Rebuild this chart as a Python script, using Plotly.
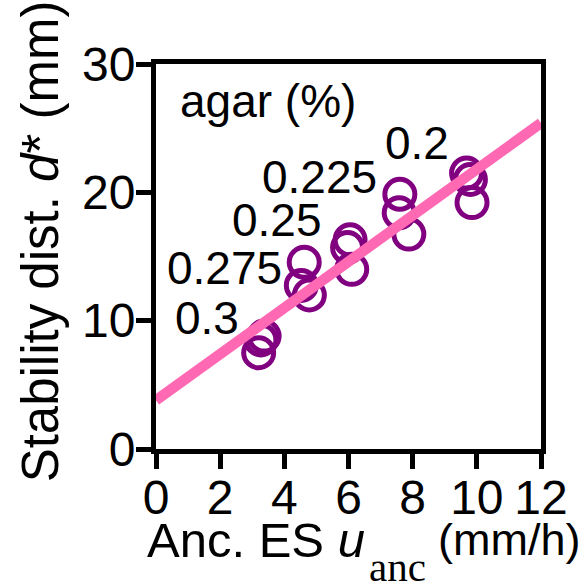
import plotly.graph_objects as go

# Anchorage-cell elongation speed (mm/h) and stability distance d* (mm), per agar concentration
agar_labels = ["0.3", "0.275", "0.25", "0.225", "0.2"]
u_anc = [
    [3.37, 3.27, 3.20],
    [4.62, 4.53, 4.78],
    [6.05, 5.97, 6.10],
    [7.60, 7.58, 7.88],
    [9.68, 9.80, 9.85],
]
d_star = [
    [8.8, 8.5, 7.5],
    [14.55, 12.75, 12.0],
    [16.3, 15.7, 14.0],
    [19.85, 18.4, 16.75],
    [21.5, 21.0, 19.2],
]

# Linear fit drawn across the full axis range
fit_x = [0, 12]
fit_y = [3.8, 25.4]

# Where each concentration label sits (data coordinates)
label_x = [1.6, 2.15, 3.77, 5.11, 8.14]
label_y = [10.2, 14.1, 17.85, 21.2, 23.85]

x_ticks = [0, 2, 4, 6, 8, 10, 12]
y_ticks = [0, 10, 20, 30]

FONT = "Liberation Sans, Arial, sans-serif"
SERIF = "Liberation Serif, Times New Roman, serif"
PURPLE = "#800080"
PINK = "#FF69B4"

all_x = [v for grp in u_anc for v in grp]
all_y = [v for grp in d_star for v in grp]

fig = go.Figure()
fig.add_trace(go.Scatter(
    x=all_x, y=all_y, mode="markers",
    marker=dict(symbol="circle-open", size=30, color=PURPLE,
                line=dict(width=5, color=PURPLE)),
    showlegend=False, hoverinfo="skip",
))
fig.add_trace(go.Scatter(
    x=fit_x, y=fit_y, mode="lines",
    line=dict(color=PINK, width=10.5),
    showlegend=False, hoverinfo="skip",
))

for txt, lx, ly in zip(agar_labels, label_x, label_y):
    fig.add_annotation(x=lx, y=ly, text=txt, showarrow=False,
                       xanchor="center", yanchor="middle",
                       font=dict(family=FONT, size=46, color="black"))

fig.add_annotation(x=3.48, y=27.1, text="agar (%)", showarrow=False,
                   xanchor="center", yanchor="middle",
                   font=dict(family=FONT, size=46, color="black"))

# Axis titles, placed in paper coordinates
fig.add_annotation(xref="paper", yref="paper", x=-0.300, y=0.538,
                   text="Stability dist. <i>d</i>* (mm)", textangle=-90,
                   showarrow=False, xanchor="center", yanchor="middle",
                   font=dict(family=FONT, size=51, color="black"))
fig.add_annotation(xref="paper", yref="paper", x=0.548, y=-0.236,
                   text="Anc. ES <i>u</i>", showarrow=False,
                   xanchor="right", yanchor="middle",
                   font=dict(family=FONT, size=49, color="black"))
fig.add_annotation(xref="paper", yref="paper", x=0.547, y=-0.306,
                   text="anc", showarrow=False,
                   xanchor="left", yanchor="middle",
                   font=dict(family=SERIF, size=41, color="black"))
fig.add_annotation(xref="paper", yref="paper", x=0.727, y=-0.236,
                   text="(mm/h)", showarrow=False,
                   xanchor="left", yanchor="middle",
                   font=dict(family=FONT, size=45, color="black"))

axis_common = dict(
    showline=True, linewidth=5, linecolor="black", mirror=True,
    ticks="outside", ticklen=15, tickwidth=5, tickcolor="black",
    showgrid=False, zeroline=False,
    tickfont=dict(family=FONT, size=48, color="black"),
)

fig.update_xaxes(
    range=[0, 12], tickmode="array", tickvals=x_ticks,
    ticktext=[str(t) for t in x_ticks], ticklabelstandoff=-13,
    **axis_common,
)
fig.update_yaxes(
    range=[0, 30], tickmode="array", tickvals=y_ticks,
    ticktext=[str(t) for t in y_ticks], ticklabelstandoff=-9,
    **axis_common,
)

fig.update_layout(
    width=579, height=585,
    margin=dict(l=156, r=38, t=64, b=136),
    plot_bgcolor="white", paper_bgcolor="white",
)

fig.write_html("out.html")
